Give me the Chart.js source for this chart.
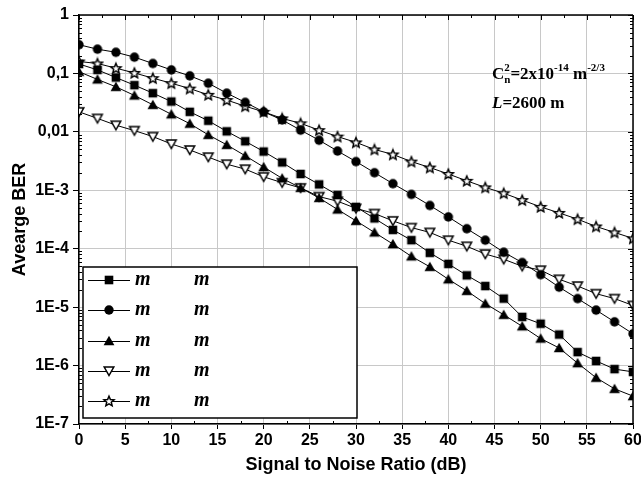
<!DOCTYPE html>
<html>
<head>
<meta charset="utf-8">
<script src="https://cdn.jsdelivr.net/npm/chart.js@4.4.1/dist/chart.umd.min.js"></script>
<style>
  html, body { margin: 0; padding: 0; background: #fff; }
  #wrap { width: 641px; height: 482px; }
</style>
</head>
<body>
<div id="wrap"><canvas id="ber"></canvas></div>
<script>
// SNR sweep in dB
const snr = [0, 2, 4, 6, 8, 10, 12, 14, 16, 18, 20, 22, 24, 26, 28, 30,
             32, 34, 36, 38, 40, 42, 44, 46, 48, 50, 52, 54, 56, 58, 60];

// average BER for each scheme
const berSquare = [0.145, 0.115, 0.085, 0.063, 0.046, 0.033, 0.022, 0.0155, 0.0102, 0.0069,
  0.0046, 0.003, 0.0019, 0.00126, 8.3e-4, 5.2e-4, 3.3e-4, 2.1e-4, 1.4e-4, 8.5e-5,
  5.5e-5, 3.5e-5, 2.3e-5, 1.4e-5, 6.8e-6, 5.2e-6, 3.4e-6, 1.7e-6, 1.2e-6, 8.7e-7, 7.8e-7];
const berCircle = [0.31, 0.26, 0.23, 0.19, 0.148, 0.115, 0.091, 0.068, 0.046, 0.032,
  0.022, 0.016, 0.0107, 0.0072, 0.0047, 0.0031, 0.002, 0.0013, 8.5e-4, 5.5e-4,
  3.5e-4, 2.2e-4, 1.4e-4, 8.7e-5, 5.8e-5, 3.6e-5, 2.2e-5, 1.4e-5, 8.9e-6, 5.6e-6, 3.5e-6];
const berTriangle = [0.107, 0.079, 0.059, 0.042, 0.029, 0.02, 0.0138, 0.0089, 0.006, 0.0039,
  0.0025, 0.0016, 0.0011, 7.4e-4, 4.7e-4, 3.0e-4, 1.9e-4, 1.2e-4, 7.4e-5, 4.9e-5,
  3.0e-5, 1.9e-5, 1.15e-5, 7.4e-6, 4.7e-6, 2.9e-6, 2.0e-6, 1.1e-6, 6.2e-7, 4.0e-7, 3.0e-7];
const berTriangleOpen = [0.022, 0.017, 0.013, 0.0105, 0.0083, 0.0062, 0.0049, 0.0037, 0.0028, 0.0023,
  0.0017, 0.00135, 0.0011, 7.8e-4, 6.5e-4, 4.9e-4, 4.0e-4, 3.0e-4, 2.3e-4, 1.9e-4,
  1.4e-4, 1.1e-4, 8.1e-5, 6.6e-5, 5.0e-5, 4.3e-5, 3.0e-5, 2.3e-5, 1.7e-5, 1.4e-5, 1.07e-5];
const berStar = [0.16, 0.148, 0.123, 0.102, 0.083, 0.068, 0.055, 0.043, 0.035, 0.0275,
  0.022, 0.017, 0.014, 0.0107, 0.0083, 0.0066, 0.005, 0.0041, 0.0031, 0.00245,
  0.0019, 0.00145, 0.00112, 8.9e-4, 6.8e-4, 5.2e-4, 4.1e-4, 3.2e-4, 2.4e-4, 1.9e-4, 1.5e-4];

const seriesData = [berSquare, berCircle, berTriangle, berTriangleOpen, berStar];
const seriesMarkers = ['square', 'circle', 'triangle', 'triangleDown', 'star'];
const legendText = [['m', 'm'], ['m', 'm'], ['m', 'm'], ['m', 'm'], ['m', 'm']];

const berTicks = [1e-7, 1e-6, 1e-5, 1e-4, 1e-3, 1e-2, 1e-1, 1];
const berTickLabels = ['1E-7', '1E-6', '1E-5', '1E-4', '1E-3', '0,01', '0,1', '1'];

const SANS = "'Liberation Sans', Arial, sans-serif";
const SERIF = "'Liberation Serif', 'Times New Roman', serif";

function drawMarker(ctx, kind, x, y) {
  ctx.save();
  ctx.fillStyle = '#000';
  ctx.strokeStyle = '#000';
  ctx.lineWidth = 1.5;
  ctx.beginPath();
  if (kind === 'square') {
    ctx.rect(x - 4.3, y - 4.3, 8.6, 8.6);
    ctx.fill();
  } else if (kind === 'circle') {
    ctx.arc(x, y, 4.7, 0, Math.PI * 2);
    ctx.fill();
  } else if (kind === 'triangle') {
    ctx.moveTo(x, y - 5.3);
    ctx.lineTo(x + 5.4, y + 4.2);
    ctx.lineTo(x - 5.4, y + 4.2);
    ctx.closePath();
    ctx.fill();
  } else if (kind === 'triangleDown') {
    ctx.moveTo(x - 4.8, y - 4);
    ctx.lineTo(x + 4.8, y - 4);
    ctx.lineTo(x, y + 4.5);
    ctx.closePath();
    ctx.fillStyle = '#fff';
    ctx.fill();
    ctx.stroke();
  } else if (kind === 'star') {
    for (let i = 0; i < 10; i++) {
      const r = i % 2 ? 2.4 : 5.3;
      const a = -Math.PI / 2 + i * Math.PI / 5;
      const px = x + r * Math.cos(a), py = y + 0.5 + r * Math.sin(a);
      if (i === 0) ctx.moveTo(px, py); else ctx.lineTo(px, py);
    }
    ctx.closePath();
    ctx.fillStyle = '#fff';
    ctx.fill();
    ctx.stroke();
  }
  ctx.restore();
}

function markerCanvas(kind) {
  const c = document.createElement('canvas');
  c.width = 14;
  c.height = 14;
  drawMarker(c.getContext('2d'), kind, 7, 7);
  return c;
}

const markerImages = seriesMarkers.map(markerCanvas);

// frame, inner ticks, legend box and the turbulence note
const decorations = {
  id: 'decorations',
  afterDatasetsDraw(chart) {
    const ctx = chart.ctx;
    const { left, right, top, bottom } = chart.chartArea;
    const xs = chart.scales.x, ys = chart.scales.y;
    ctx.save();
    ctx.strokeStyle = '#000';
    ctx.lineWidth = 1.5;
    ctx.beginPath();
    ctx.moveTo(left, top); ctx.lineTo(right, top);
    ctx.moveTo(right, top); ctx.lineTo(right, bottom);
    ctx.stroke();

    ctx.lineWidth = 1;
    ctx.beginPath();
    // x ticks every 2.5 dB on top (inward) and minor ones on bottom
    for (let v = 0; v <= 60; v += 2.5) {
      const px = Math.round(xs.getPixelForValue(v)) + 0.5;
      const major = v % 5 === 0;
      ctx.moveTo(px, top); ctx.lineTo(px, top + (major ? 5 : 3));
      if (!major) { ctx.moveTo(px, bottom); ctx.lineTo(px, bottom - 3); }
    }
    // log minor ticks on left and right
    for (let d = -7; d < 0; d++) {
      for (let k = 2; k <= 9; k++) {
        const py = Math.round(ys.getPixelForValue(k * Math.pow(10, d))) + 0.5;
        ctx.moveTo(left, py); ctx.lineTo(left + 3, py);
        ctx.moveTo(right, py); ctx.lineTo(right - 3, py);
      }
    }
    berTicks.forEach(v => {
      const py = Math.round(ys.getPixelForValue(v)) + 0.5;
      ctx.moveTo(right, py); ctx.lineTo(right - 5, py);
    });
    ctx.stroke();

    // legend
    const bx = 83, by = 267, bw = 274, bh = 151;
    ctx.fillStyle = '#fff';
    ctx.fillRect(bx, by, bw, bh);
    ctx.lineWidth = 1.5;
    ctx.strokeRect(bx, by, bw, bh);
    const rowY = [280, 310, 341, 371, 401];
    ctx.font = `italic bold 20px ${SERIF}`;
    ctx.fillStyle = '#000';
    ctx.textBaseline = 'middle';
    ctx.textAlign = 'left';
    seriesMarkers.forEach((kind, i) => {
      const y = rowY[i];
      ctx.lineWidth = 1;
      ctx.beginPath();
      ctx.moveTo(88, y + 0.5); ctx.lineTo(130, y + 0.5);
      ctx.stroke();
      ctx.drawImage(markerImages[i], 109 - 7, y - 7);
      ctx.fillText(legendText[i][0], 135, y);
      ctx.fillText(legendText[i][1], 194, y);
    });

    // Cn^2 and link length note
    ctx.textBaseline = 'alphabetic';
    let x = 492;
    const base = 79;
    const big = `bold 17px ${SERIF}`, small = `bold 11px ${SERIF}`;
    const put = (txt, font, dy) => {
      ctx.font = font;
      ctx.fillText(txt, x, base + dy);
      x += ctx.measureText(txt).width;
    };
    put('C', big, 0);
    ctx.font = small;
    ctx.fillText('2', x, base - 8);
    ctx.fillText('n', x, base + 4);
    x += ctx.measureText('n').width;
    put('=2x10', big, 0);
    put('-14', small, -8);
    put(' m', big, 0);
    put('-2/3', small, -8);

    x = 492;
    const base2 = 108;
    ctx.font = `italic bold 17px ${SERIF}`;
    ctx.fillText('L', x, base2);
    x += ctx.measureText('L').width;
    ctx.font = big;
    ctx.fillText('=2600 m', x, base2);
    ctx.restore();
  }
};

const datasets = seriesData.map((vals, i) => ({
  label: legendText[i].join(' '),
  data: vals.map((v, j) => ({ x: snr[j], y: v })),
  borderColor: '#000',
  borderWidth: 1,
  backgroundColor: '#000',
  pointStyle: markerImages[i],
  pointRadius: 5,
  tension: 0
}));

new Chart(document.getElementById('ber'), {
  type: 'line',
  data: { datasets },
  options: {
    responsive: true,
    maintainAspectRatio: false,
    animation: false,
    layout: { padding: { top: 15, right: 8, left: 0, bottom: 0 } },
    plugins: { legend: { display: false }, tooltip: { enabled: false } },
    scales: {
      x: {
        type: 'linear',
        min: 0,
        max: 60,
        ticks: {
          stepSize: 5,
          color: '#000',
          padding: 2,
          maxRotation: 0,
          font: { family: SANS, size: 16, weight: 'bold' }
        },
        grid: { color: '#c8c8c8', lineWidth: 1, tickColor: '#000', tickLength: 5 },
        border: { color: '#000', width: 1.5 },
        title: {
          display: true,
          text: 'Signal to Noise Ratio (dB)',
          color: '#000',
          font: { family: SANS, size: 18, weight: 'bold' },
          padding: { top: 0, bottom: 6 }
        },
        afterFit(s) { s.height = 58; s.paddingLeft = 0; s.paddingRight = 0; }
      },
      y: {
        type: 'logarithmic',
        min: 1e-7,
        max: 1,
        afterBuildTicks(s) { s.ticks = berTicks.map(v => ({ value: v })); },
        ticks: {
          autoSkip: false,
          color: '#000',
          padding: 4,
          font: { family: SANS, size: 16, weight: 'bold' },
          callback: (v, i) => berTickLabels[i]
        },
        grid: { color: '#c8c8c8', lineWidth: 1, tickColor: '#000', tickLength: 6 },
        border: { color: '#000', width: 1.5 },
        title: {
          display: true,
          text: 'Avearge BER',
          color: '#000',
          font: { family: SANS, size: 18, weight: 'bold' },
          padding: { top: 9, bottom: 0 }
        },
        afterFit(s) { s.width = 79; s.paddingTop = 0; s.paddingBottom = 0; }
      }
    }
  },
  plugins: [decorations]
});
</script>
</body>
</html>
